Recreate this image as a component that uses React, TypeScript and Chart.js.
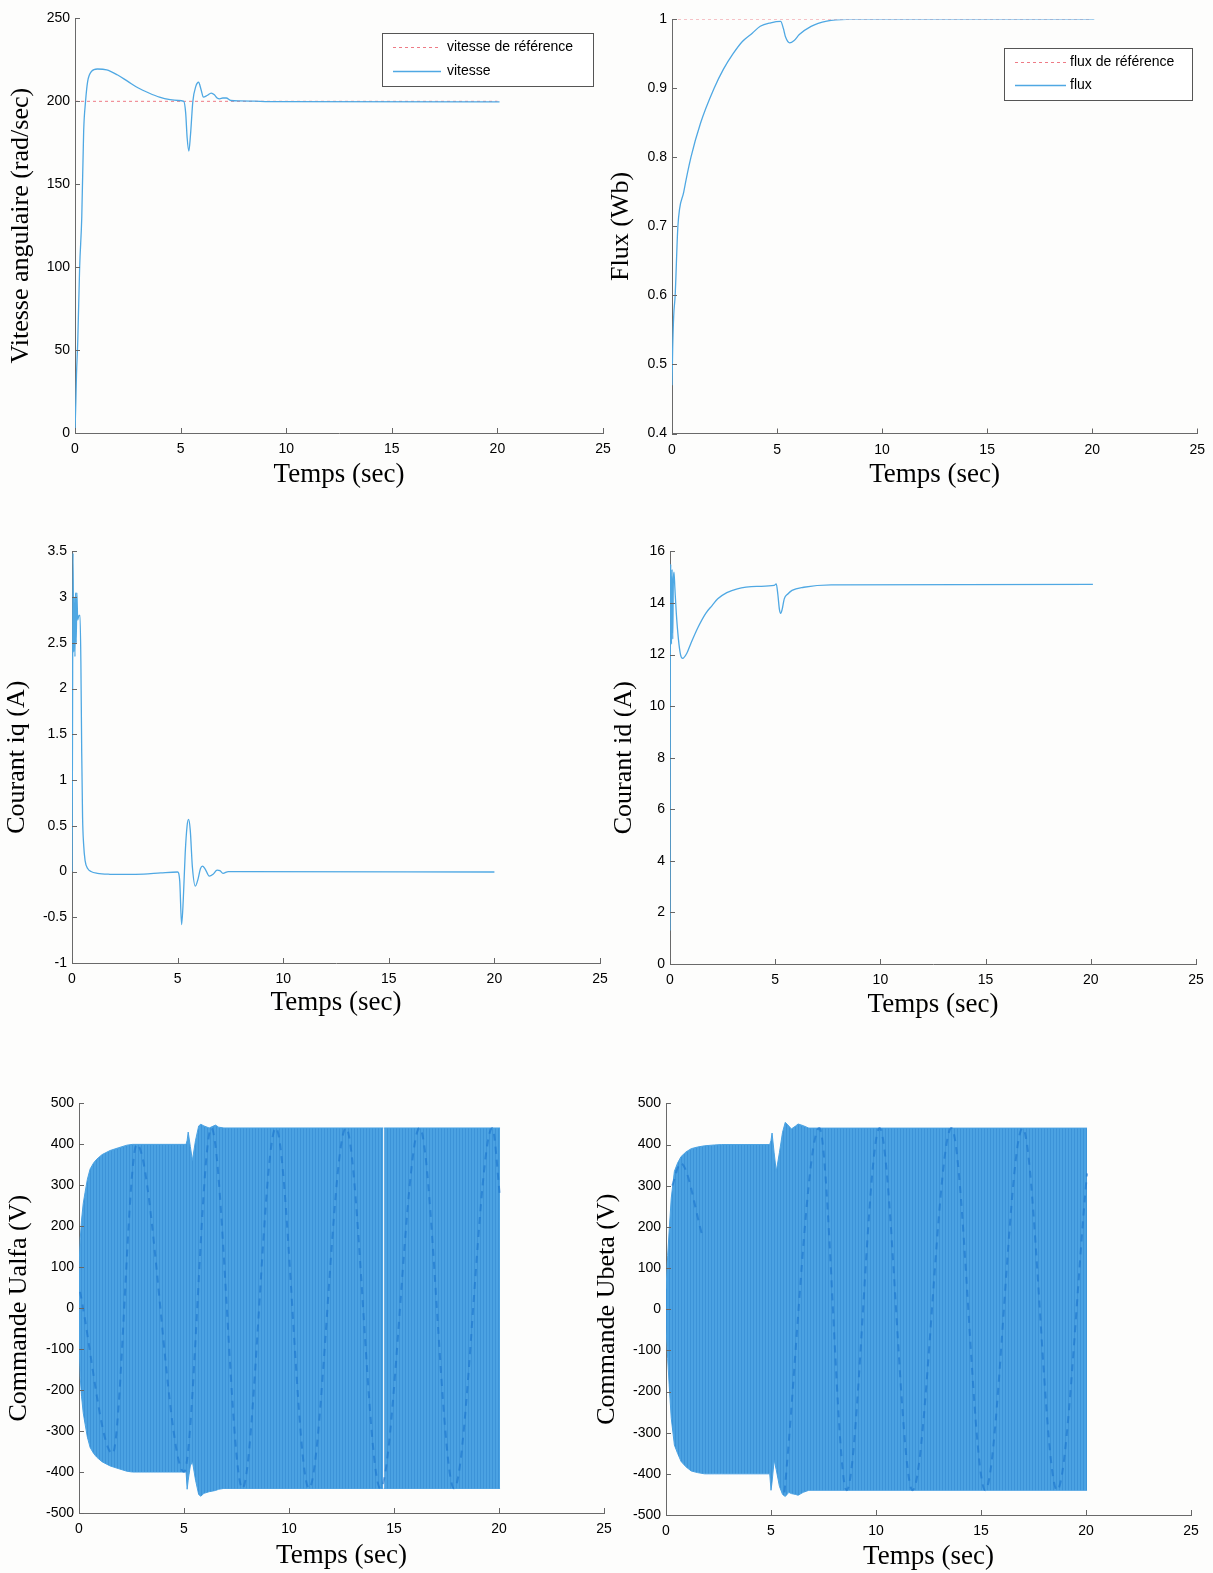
import React, { useEffect, useRef } from 'react';
import { Chart, registerables } from 'chart.js';

Chart.register(...registerables);

// ---------------- DATA ----------------
// Panel 1 : vitesse angulaire
const T_VIT = [0, 0.02, 0.04, 0.07, 0.13, 0.22, 0.32, 0.41, 0.5, 0.6, 0.78, 1.06, 1.5, 2.0, 2.5, 3.0, 3.5, 4.0, 4.5, 4.9, 5.15, 5.24, 5.31, 5.39, 5.47, 5.58, 5.72, 5.85, 5.97, 6.08, 6.25, 6.45, 6.6, 6.73, 6.85, 7.0, 7.16, 7.38, 7.8, 8.5, 9.2, 20.1];
const VIT = [0, 10, 19, 35, 55, 100, 130, 182, 200, 212, 218, 219.5, 219, 216, 212, 208, 205, 202.5, 201, 200.5, 200, 193, 178, 170, 180, 200, 209, 211.5, 207, 202.5, 203.5, 205, 204, 202, 201.5, 202, 202, 200.5, 200.3, 200.1, 199.8, 199.7];
const T_VIT_REF = [0, 20];
const VIT_REF = [200, 200];

// Panel 2 : flux
const T_FLUX = [0, 0.03, 0.08, 0.15, 0.28, 0.56, 0.9, 1.36, 2.0, 2.45, 2.9, 3.35, 3.82, 4.2, 4.7, 5.17, 5.3, 5.41, 5.6, 5.8, 6.06, 6.62, 7.37, 8.3, 20.1];
const FLUX = [0.47, 0.52, 0.57, 0.6, 0.7, 0.75, 0.8, 0.85, 0.9, 0.928, 0.95, 0.968, 0.98, 0.99, 0.995, 0.997, 0.987, 0.974, 0.966, 0.969, 0.978, 0.99, 0.9976, 1.0, 1.0];
const T_FLUX_REF = [0, 20];
const FLUX_REF = [1, 1];

// Panel 3 : courant iq
const T_IQ = [0, 0.02, 0.05, 0.08, 0.11, 0.14, 0.17, 0.2, 0.23, 0.27, 0.33, 0.38, 0.42, 0.46, 0.5, 0.55, 0.62, 0.75, 0.9, 1.2, 1.8, 2.6, 3.4, 4.2, 5.0, 5.1, 5.19, 5.27, 5.36, 5.45, 5.52, 5.6, 5.7, 5.84, 5.97, 6.08, 6.18, 6.3, 6.5, 6.68, 6.87, 7.0, 7.15, 7.4, 8.0, 20.0];
const IQ = [0, 1.2, 3.48, 2.4, 3.0, 2.35, 3.05, 2.5, 3.05, 2.75, 2.8, 2.8, 2.3, 1.3, 0.6, 0.3, 0.12, 0.03, 0.0, -0.02, -0.03, -0.032, -0.028, -0.015, -0.005, -0.1, -0.58, -0.3, 0.2, 0.5, 0.57, 0.45, 0.05, -0.16, -0.08, 0.03, 0.06, 0.03, -0.05, -0.03, 0.015, 0.01, -0.02, 0.0, 0.0, -0.005];

// Panel 4 : courant id
const T_ID = [0, 0.015, 0.04, 0.07, 0.1, 0.13, 0.16, 0.19, 0.23, 0.3, 0.4, 0.5, 0.6, 0.8, 1.0, 1.34, 1.7, 2.0, 2.27, 2.7, 3.2, 4.13, 4.95, 5.05, 5.13, 5.2, 5.26, 5.33, 5.43, 5.6, 5.8, 6.36, 7.66, 20.1];
const ID = [1.3, 12.3, 15.5, 12.4, 15.3, 12.6, 14.9, 15.2, 14.6, 13.6, 12.6, 12.0, 11.85, 12.05, 12.45, 13.07, 13.6, 13.9, 14.16, 14.4, 14.55, 14.64, 14.68, 14.74, 14.3, 13.75, 13.6, 13.75, 14.16, 14.35, 14.49, 14.61, 14.7, 14.72];

// Panel 5 : commande Ualfa (envelope of the fast switching band + visible fundamental)
const T_UA = [0, 0.06, 0.12, 0.2, 0.29, 0.4, 0.53, 0.7, 0.85, 1.1, 1.48, 1.9, 2.28, 2.55, 5.1, 5.15, 5.2, 5.3, 5.4, 5.55, 5.7, 5.8, 5.95, 6.2, 6.5, 6.65, 6.9, 14.49, 14.51, 14.53, 20.05];
const UA_UP = [100, 170, 215, 255, 283, 315, 340, 355, 364, 375, 385, 392, 398, 400, 400, 410, 430, 395, 361, 410, 445, 449, 445, 440, 447, 442, 440, 440, null, 440, 440];
const UA_LO = [-80, -170, -215, -255, -283, -315, -340, -355, -364, -375, -385, -392, -398, -400, -400, -442, -420, -385, -374, -420, -455, -459, -452, -448, -445, -442, -440, -440, null, -440, -440];
const T_UA_WAVE = [0.05, 1.6, 2.75, 5.0, 6.3, 7.78, 9.37, 10.95, 12.71, 14.35, 16.22, 17.86, 19.68, 20.05];
const UA_WAVE = [40, -355, 400, -400, 440, -440, 440, -440, 440, -440, 440, -440, 440, 270];

// Panel 6 : commande Ubeta
const T_UB = [0, 0.08, 0.15, 0.25, 0.4, 0.55, 0.72, 0.95, 1.2, 1.5, 1.84, 2.3, 2.64, 4.94, 5.0, 5.05, 5.15, 5.25, 5.4, 5.55, 5.68, 5.85, 5.97, 6.17, 6.29, 6.53, 6.8, 20.05];
const UB_UP = [50, 130, 190, 270, 335, 355, 371, 382, 390, 394, 397, 399, 400, 400, 410, 428, 380, 335, 380, 430, 454, 445, 438, 445, 450, 446, 440, 440];
const UB_LO = [-40, -120, -183, -265, -330, -350, -370, -383, -393, -397, -400, -400, -400, -400, -440, -420, -367, -390, -430, -450, -455, -445, -448, -450, -452, -445, -440, -440];
const T_UB_WAVE = [0.3, 0.7, 1.75, 3.0, 5.64, 7.3, 8.6, 10.17, 11.74, 13.59, 15.2, 16.98, 18.62, 20.05];
const UB_WAVE = [300, 355, 175, null, -445, 440, -440, 440, -440, 440, -440, 440, -440, 330];

// ---------------- STYLE ----------------
const BLUE = '#4fa8e3';
const RED = '#ee7b86';
const BAND = '#4ba2e2';
const BAND_STRIPE = '#3c93d8';
const DARK = 'rgba(25,115,205,0.6)';
const Y_TITLE_SIZE = 26;
const X_TITLE_SIZE = 27;

type Box = { left: number; top: number; right: number; bottom: number };
type LegendSpec = { left: number; top: number; right: number; bottom: number; rows: number[]; lineX1: number; lineX2: number; textX: number; items: number[] };
type PanelSpec = {
  key: string;
  box: Box;
  yTitleX: number;
  xTitleY: number;
  yMin: number; yMax: number; yStep: number;
  yTitle: string;
  legend?: LegendSpec;
};

const PANELS: PanelSpec[] = [
  { key: 'vit', box: { left: 75, top: 17, right: 603, bottom: 433 }, yTitleX: 22, xTitleY: 474.6, yMin: 0, yMax: 250, yStep: 50, yTitle: 'Vitesse angulaire (rad/sec)',
    legend: { left: 382, top: 33, right: 593, bottom: 86, rows: [47, 71], lineX1: 393, lineX2: 441, textX: 447, items: [1, 0] } },
  { key: 'flux', box: { left: 672, top: 18, right: 1199, bottom: 433.5 }, yTitleX: 622, xTitleY: 474.6, yMin: 0.4, yMax: 1, yStep: 0.1, yTitle: 'Flux (Wb)',
    legend: { left: 1004, top: 48, right: 1192, bottom: 100, rows: [62, 85], lineX1: 1015, lineX2: 1066, textX: 1070, items: [1, 0] } },
  { key: 'iq', box: { left: 72, top: 550, right: 600, bottom: 963 }, yTitleX: 18, xTitleY: 1003, yMin: -1, yMax: 3.5, yStep: 0.5, yTitle: 'Courant iq (A)' },
  { key: 'id', box: { left: 670, top: 550, right: 1196, bottom: 964 }, yTitleX: 625, xTitleY: 1005, yMin: 0, yMax: 16, yStep: 2, yTitle: 'Courant id (A)' },
  { key: 'ua', box: { left: 79, top: 1102, right: 604, bottom: 1513 }, yTitleX: 20, xTitleY: 1556, yMin: -500, yMax: 500, yStep: 100, yTitle: 'Commande Ualfa (V)' },
  { key: 'ub', box: { left: 666, top: 1102, right: 1191, bottom: 1515 }, yTitleX: 608, xTitleY: 1557, yMin: -500, yMax: 500, yStep: 100, yTitle: 'Commande Ubeta (V)' },
];

function xy(ts: number[], vs: (number | null)[]) {
  return ts.map((t, i) => ({ x: t, y: vs[i] }));
}

function lineDs(label: string, ts: number[], vs: (number | null)[], color: string, extra: any = {}) {
  return {
    label,
    data: xy(ts, vs),
    borderColor: color,
    backgroundColor: color,
    borderWidth: 1.3,
    pointRadius: 0,
    fill: false,
    cubicInterpolationMode: 'monotone',
    ...extra,
  };
}

function makePattern(): CanvasPattern | string {
  const c = document.createElement('canvas');
  c.width = 3; c.height = 4;
  const g = c.getContext('2d');
  if (!g) return BAND;
  g.fillStyle = BAND; g.fillRect(0, 0, 3, 4);
  g.fillStyle = BAND_STRIPE; g.fillRect(2, 0, 1, 4);
  return g.createPattern(c, 'repeat') || BAND;
}

function datasetsFor(key: string) {
  const refStyle = { borderDash: [3, 3], borderWidth: 1, cubicInterpolationMode: 'default' };
  if (key === 'vit') return [
    lineDs('vitesse', T_VIT, VIT, BLUE),
    lineDs('vitesse de référence', T_VIT_REF, VIT_REF, RED, refStyle),
  ];
  if (key === 'flux') return [
    lineDs('flux', T_FLUX, FLUX, BLUE),
    lineDs('flux de référence', T_FLUX_REF, FLUX_REF, RED, refStyle),
  ];
  if (key === 'iq') return [lineDs('iq', T_IQ, IQ, BLUE)];
  if (key === 'id') return [lineDs('id', T_ID, ID, BLUE)];
  const pat = makePattern();
  const isA = key === 'ua';
  const tE = isA ? T_UA : T_UB;
  const up = isA ? UA_UP : UB_UP;
  const lo = isA ? UA_LO : UB_LO;
  const tW = isA ? T_UA_WAVE : T_UB_WAVE;
  const w = isA ? UA_WAVE : UB_WAVE;
  return [
    lineDs('fondamental', tW, w, DARK, { borderWidth: 2, borderDash: [7, 6] }),
    { label: 'enveloppe haute', data: xy(tE, up), borderColor: BAND, backgroundColor: pat, borderWidth: 1, pointRadius: 0, fill: '+1', tension: 0 },
    { label: 'enveloppe basse', data: xy(tE, lo), borderColor: BAND, borderWidth: 1, pointRadius: 0, fill: false, tension: 0 },
  ];
}

const inwardTicks = {
  id: 'inwardTicks',
  afterDraw(chart: any) {
    const { ctx, chartArea: ca, scales } = chart;
    const x = scales.x, y = scales.y;
    ctx.save();
    ctx.strokeStyle = '#666';
    ctx.lineWidth = 1;
    ctx.beginPath();
    x.ticks.forEach((t: any) => {
      const px = Math.round(x.getPixelForValue(t.value)) + 0.5;
      ctx.moveTo(px, ca.bottom);
      ctx.lineTo(px, ca.bottom - 5);
    });
    y.ticks.forEach((t: any) => {
      const py = Math.round(y.getPixelForValue(t.value)) + 0.5;
      ctx.moveTo(ca.left, py);
      ctx.lineTo(ca.left + 5, py);
    });
    ctx.stroke();
    ctx.restore();
  },
};

const boxLegend = {
  id: 'boxLegend',
  afterDraw(chart: any, _args: any, opts: any) {
    if (!opts || !opts.items) return;
    const { ctx } = chart;
    ctx.save();
    ctx.fillStyle = '#ffffff';
    ctx.fillRect(opts.left, opts.top, opts.width, opts.height);
    ctx.strokeStyle = '#555';
    ctx.lineWidth = 1;
    ctx.strokeRect(Math.round(opts.left) + 0.5, Math.round(opts.top) + 0.5, Math.round(opts.width), Math.round(opts.height));
    opts.items.forEach((idx: number, i: number) => {
      const ds = chart.data.datasets[idx];
      const cy = Math.round(opts.rows[i]) + 0.5;
      ctx.strokeStyle = ds.borderColor;
      ctx.lineWidth = ds.borderWidth;
      ctx.setLineDash(ds.borderDash || []);
      ctx.beginPath();
      ctx.moveTo(opts.lineX1, cy);
      ctx.lineTo(opts.lineX2, cy);
      ctx.stroke();
      ctx.setLineDash([]);
      ctx.fillStyle = '#000';
      ctx.font = '14px "Liberation Sans", Arial, sans-serif';
      ctx.textBaseline = 'middle';
      ctx.textAlign = 'left';
      ctx.fillText(ds.label, opts.textX, cy);
    });
    ctx.restore();
  },
};

function geom(p: PanelSpec) {
  const left = Math.round(p.yTitleX - (Y_TITLE_SIZE * 1.2) / 2);
  const top = Math.round(p.box.top - 12);
  const right = Math.min(1213, Math.round(p.box.right + 16));
  const bottom = Math.min(1573, Math.round(p.xTitleY + (X_TITLE_SIZE * 1.2) / 2));
  return { left, top, w: right - left, h: bottom - top, right, bottom };
}

const fmt = (v: any) => String(Number(Number(v).toFixed(3)));

function ChartPanel({ p }: { p: PanelSpec }) {
  const ref = useRef<HTMLCanvasElement | null>(null);
  const g = geom(p);
  useEffect(() => {
    if (!ref.current) return;
    const tickFont = { family: '"Liberation Sans", Arial, sans-serif', size: 14 };
    const yTitleFont = { family: '"Liberation Serif", "Times New Roman", serif', size: Y_TITLE_SIZE, lineHeight: 1.2 };
    const xTitleFont = { family: '"Liberation Serif", "Times New Roman", serif', size: X_TITLE_SIZE, lineHeight: 1.2 };
    const yW = p.box.left - g.left;
    const xH = g.bottom - p.box.bottom;
    const lg = p.legend;
    const chart = new Chart(ref.current, {
      type: 'line',
      data: { datasets: datasetsFor(p.key) as any },
      options: {
        animation: false,
        responsive: false,
        maintainAspectRatio: false,
        events: [],
        layout: { padding: { left: 0, top: p.box.top - g.top, right: g.right - p.box.right, bottom: 0 } },
        plugins: {
          legend: { display: false },
          tooltip: { enabled: false },
          boxLegend: lg ? {
            left: lg.left - g.left, top: lg.top - g.top, width: lg.right - lg.left, height: lg.bottom - lg.top,
            rows: lg.rows.map(r => r - g.top), lineX1: lg.lineX1 - g.left, lineX2: lg.lineX2 - g.left, textX: lg.textX - g.left, items: lg.items,
          } : {},
        } as any,
        scales: {
          x: {
            type: 'linear', min: 0, max: 25,
            ticks: { stepSize: 5, font: tickFont, color: '#000', padding: 8, maxRotation: 0, callback: fmt },
            grid: { display: true, drawOnChartArea: false, drawTicks: false },
            border: { display: true, color: '#6a6a6a', width: 1 },
            title: { display: true, text: 'Temps (sec)', font: xTitleFont, color: '#000', padding: 0 },
            afterFit: (s: any) => { s.height = xH; },
          },
          y: {
            type: 'linear', min: p.yMin, max: p.yMax,
            ticks: { stepSize: p.yStep, font: tickFont, color: '#000', padding: 5, callback: fmt },
            grid: { display: true, drawOnChartArea: false, drawTicks: false },
            border: { display: true, color: '#6a6a6a', width: 1 },
            title: { display: true, text: p.yTitle, font: yTitleFont, color: '#000', padding: 0 },
            afterFit: (s: any) => { s.width = yW; },
          },
        },
      } as any,
      plugins: [inwardTicks, boxLegend],
    });
    return () => chart.destroy();
  }, []);
  return (
    <canvas
      ref={ref}
      width={g.w}
      height={g.h}
      style={{ position: 'absolute', left: g.left, top: g.top, width: g.w, height: g.h }}
    />
  );
}

export default function App() {
  return (
    <div style={{ position: 'absolute', left: 0, top: 0, width: 1213, height: 1573, background: '#fdfdfc', overflow: 'hidden' }}>
      {PANELS.map(p => <ChartPanel key={p.key} p={p} />)}
    </div>
  );
}
